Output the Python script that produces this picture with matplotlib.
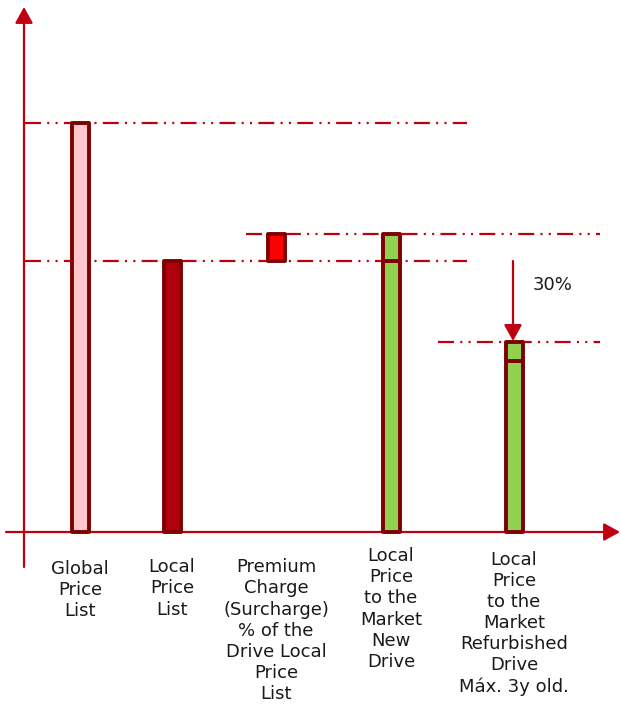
import matplotlib.pyplot as plt

plt.rcParams['font.family'] = ['DejaVu Sans']
plt.rcParams['lines.scale_dashes'] = False

# price levels (local price list = 100)
labels = [
    "Global\nPrice\nList",
    "Local\nPrice\nList",
    "Premium\nCharge\n(Surcharge)\n% of the\nDrive Local\nPrice\nList",
    "Local\nPrice\nto the\nMarket\nNew\nDrive",
    "Local\nPrice\nto the\nMarket\nRefurbished\nDrive\nMáx. 3y old.",
]
global_price = 151
local_price = 100
premium = 10
new_drive = [local_price, premium]        # base + surcharge
refurbished = [63, 7]                      # base + surcharge
discount_label = "30%"

# layout (horizontal positions in pixels, vertical in price units)
xpos = [80, 172, 276, 391, 514]
label_drop = [20, 19, 19, 11, 13.5]       # points below the x axis
px_per_unit = 2.71
W, H = 621, 708
base_px = 532

axis_red = "#C00010"
edge = "#7F0000"
dash = (0, (11.5, 4.5, 1.5, 4.5, 1.5, 4.5))

fig = plt.figure(figsize=(W / 100, H / 100), dpi=100)
ax = fig.add_axes([0, 0, 1, 1])
ax.set_xlim(0, W)
ax.set_ylim(-(H - base_px) / px_per_unit, base_px / px_per_unit)
ax.axis("off")

bw = 17
bar_kw = dict(width=bw, edgecolor=edge, linewidth=2.8, zorder=4)

ax.bar(xpos[0], global_price, color="#FFC7CE", **bar_kw)
ax.bar(xpos[1], local_price, color="#B00010", **bar_kw)
ax.bar(xpos[2], premium, bottom=local_price, color="#FF0000", **bar_kw)
ax.bar(xpos[3], new_drive[0], color="#92D050", **bar_kw)
ax.bar(xpos[3], new_drive[1], bottom=new_drive[0], color="#92D050", **bar_kw)
ax.bar(xpos[4], refurbished[0], color="#92D050", **bar_kw)
ax.bar(xpos[4], refurbished[1], bottom=refurbished[0], color="#92D050", **bar_kw)
for p in ax.patches:
    p.set_joinstyle("round")

# reference levels
new_total = sum(new_drive)
refurb_total = sum(refurbished)
line_kw = dict(colors=axis_red, linewidth=1.6, linestyles=[dash], zorder=2)
ax.hlines(global_price, 25, 467, **line_kw)
ax.hlines(local_price, 25, 467, **line_kw)
ax.hlines(new_total, 246, 600, **line_kw)
ax.hlines(refurb_total, 438, 600, **line_kw)

# axes with arrow heads
arrow_kw = dict(arrowstyle="-|>,head_length=0.65,head_width=0.36",
                mutation_scale=15, color=axis_red, lw=1.6,
                shrinkA=0, shrinkB=0)
ax.annotate("", xy=(24, (base_px - 7) / px_per_unit),
            xytext=(24, -(567 - base_px) / px_per_unit),
            arrowprops=arrow_kw, zorder=3)
ax.annotate("", xy=(620, 0), xytext=(6, 0), arrowprops=arrow_kw, zorder=3)

# refurbished discount arrow
ax.annotate("", xy=(513, refurb_total + 0.5), xytext=(513, local_price),
            arrowprops=arrow_kw, zorder=3)
ax.text(553, 91, discount_label, ha="center", va="center",
        fontsize=13, color="#1a1a1a")

for x, lab, d in zip(xpos, labels, label_drop):
    ax.annotate(lab, xy=(x, 0), xytext=(0, -d), textcoords="offset points",
                ha="center", va="top", fontsize=13, color="#1a1a1a",
                linespacing=1.22)

fig.savefig("out.png", dpi=100)
